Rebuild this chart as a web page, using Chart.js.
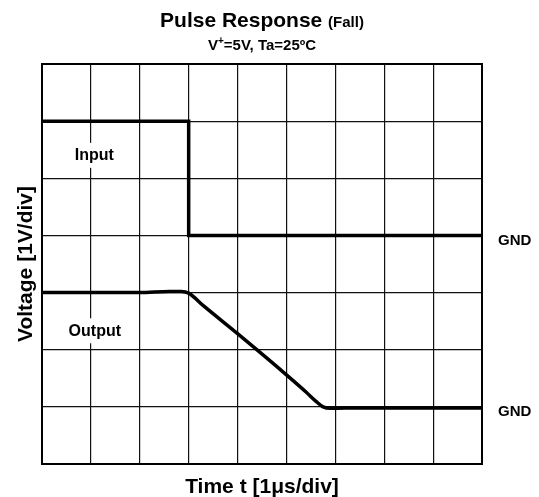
<!DOCTYPE html>
<html>
<head>
<meta charset="utf-8">
<script src="https://cdn.jsdelivr.net/npm/chart.js@4"></script>
<style>
html,body{margin:0;padding:0;background:#fff;}
#wrap{width:539px;height:497px;position:relative;}
</style>
</head>
<body>
<div id="wrap"><canvas id="c" width="539" height="497"></canvas></div>
<script>
// ---- data (divisions) ----
const xDivs = [0, 1, 2, 3, 4, 5, 6, 7, 8, 9];
const yDivs = [0, 1, 2, 3, 4, 5, 6, 7];
const inputX = [0, 3, 3, 9];
const inputY = [6, 6, 4, 4];
const outputX = [0, 1, 2, 2.6, 2.85, 3.0, 3.3, 4.0, 5.0, 5.4, 5.6, 5.75, 5.9, 6.2, 7, 8, 9];
const outputY = [3.0, 3.0, 3.0, 3.02, 3.02, 2.99, 2.77, 2.28, 1.56, 1.26, 1.1, 1.0, 0.975, 0.98, 0.98, 0.98, 0.98];
const titleText = "Pulse Response";
const titleSuffix = "(Fall)";
const subtitleParts = ["V", "+", "=5V, Ta=25ºC"];
const xTitle = "Time t [1μs/div]";
const yTitle = "Voltage [1V/div]";
const traceLabels = ["Input", "Output"];
const gndLabel = "GND";
const gndLevels = [4, 1];

const toPts = (xs, ys) => xs.map((x, i) => ({x: x, y: ys[i]}));
const FONT = '"Liberation Sans", Arial, Helvetica, sans-serif';

const textPlugin = {
  id: 'texts',
  afterDraw(chart) {
    const ctx = chart.ctx;
    const ys = chart.scales.y;
    const ca = chart.chartArea;
    const cx = (ca.left + ca.right) / 2;
    ctx.save();
    ctx.fillStyle = '#000';
    ctx.textBaseline = 'alphabetic';
    // title
    ctx.font = 'bold 21px ' + FONT;
    const w1 = ctx.measureText(titleText + ' ').width;
    ctx.font = 'bold 15px ' + FONT;
    const w2 = ctx.measureText(titleSuffix).width;
    let x0 = cx - (w1 + w2) / 2;
    ctx.textAlign = 'left';
    ctx.font = 'bold 21px ' + FONT;
    ctx.fillText(titleText + ' ', x0, 27);
    ctx.font = 'bold 15px ' + FONT;
    ctx.fillText(titleSuffix, x0 + w1, 27);
    // subtitle
    ctx.font = 'bold 15px ' + FONT;
    const a = ctx.measureText(subtitleParts[0]).width;
    const c = ctx.measureText(subtitleParts[2]).width;
    ctx.font = 'bold 10px ' + FONT;
    const b = ctx.measureText(subtitleParts[1]).width;
    x0 = cx - (a + b + c) / 2;
    ctx.font = 'bold 15px ' + FONT;
    ctx.fillText(subtitleParts[0], x0, 50);
    ctx.font = 'bold 10px ' + FONT;
    ctx.fillText(subtitleParts[1], x0 + a, 44);
    ctx.font = 'bold 15px ' + FONT;
    ctx.fillText(subtitleParts[2], x0 + a + b, 50);
    // x title
    ctx.textAlign = 'center';
    ctx.font = 'bold 21px ' + FONT;
    ctx.fillText(xTitle, cx, 493);
    // y title
    ctx.save();
    ctx.translate(32, (ca.top + ca.bottom) / 2);
    ctx.rotate(-Math.PI / 2);
    ctx.fillText(yTitle, 0, 0);
    ctx.restore();
    // GND labels
    ctx.textAlign = 'left';
    ctx.textBaseline = 'middle';
    ctx.font = 'bold 15px ' + FONT;
    gndLevels.forEach(v => {
      ctx.fillText(gndLabel, ca.right + 16, ys.getPixelForValue(v) + 5);
    });
    ctx.restore();
  },
  afterDatasetsDraw(chart) {
    // trace labels with white boxes
    const ctx = chart.ctx;
    const xs = chart.scales.x, ys = chart.scales.y;
    const pos = [[1.07, 5.41], [1.08, 2.34]];
    ctx.save();
    ctx.font = 'bold 16px ' + FONT;
    ctx.textAlign = 'center';
    ctx.textBaseline = 'middle';
    traceLabels.forEach((t, i) => {
      const px = xs.getPixelForValue(pos[i][0]);
      const py = ys.getPixelForValue(pos[i][1]);
      const w = ctx.measureText(t).width;
      ctx.fillStyle = '#fff';
      ctx.fillRect(px - w / 2 - 3, py - 12, w + 6, 25);
      ctx.fillStyle = '#000';
      ctx.fillText(t, px, py + 1);
    });
    ctx.restore();
  },
  beforeDatasetsDraw(chart) {
    const ctx = chart.ctx;
    const ca = chart.chartArea;
    ctx.save();
    ctx.strokeStyle = '#000';
    ctx.lineWidth = 2;
    ctx.strokeRect(ca.left, ca.top, ca.right - ca.left, ca.bottom - ca.top);
    ctx.restore();
  }
};

new Chart(document.getElementById('c'), {
  type: 'scatter',
  data: {
    datasets: [
      {
        label: 'Input',
        data: toPts(inputX, inputY),
        showLine: true,
        borderColor: '#000',
        borderWidth: 3.5,
        pointRadius: 0,
        tension: 0,
        borderJoinStyle: 'miter'
      },
      {
        label: 'Output',
        data: toPts(outputX, outputY),
        showLine: true,
        borderColor: '#000',
        borderWidth: 3.5,
        pointRadius: 0,
        cubicInterpolationMode: 'monotone'
      }
    ]
  },
  options: {
    responsive: false,
    animation: false,
    devicePixelRatio: 1,
    layout: { padding: { left: 42, top: 64, right: 57, bottom: 33 } },
    plugins: { legend: { display: false }, tooltip: { enabled: false }, title: { display: false } },
    scales: {
      x: {
        type: 'linear', min: xDivs[0], max: xDivs[xDivs.length - 1],
        afterBuildTicks: s => { s.ticks = xDivs.map(v => ({value: v})); },
        ticks: { display: false },
        grid: { color: '#111', lineWidth: 1.2, drawTicks: false },
        border: { color: '#000', width: 2 }
      },
      y: {
        type: 'linear', min: yDivs[0], max: yDivs[yDivs.length - 1],
        afterBuildTicks: s => { s.ticks = yDivs.map(v => ({value: v})); },
        ticks: { display: false },
        grid: { color: '#111', lineWidth: 1.2, drawTicks: false },
        border: { color: '#000', width: 2 }
      }
    }
  },
  plugins: [textPlugin]
});
</script>
</body>
</html>
